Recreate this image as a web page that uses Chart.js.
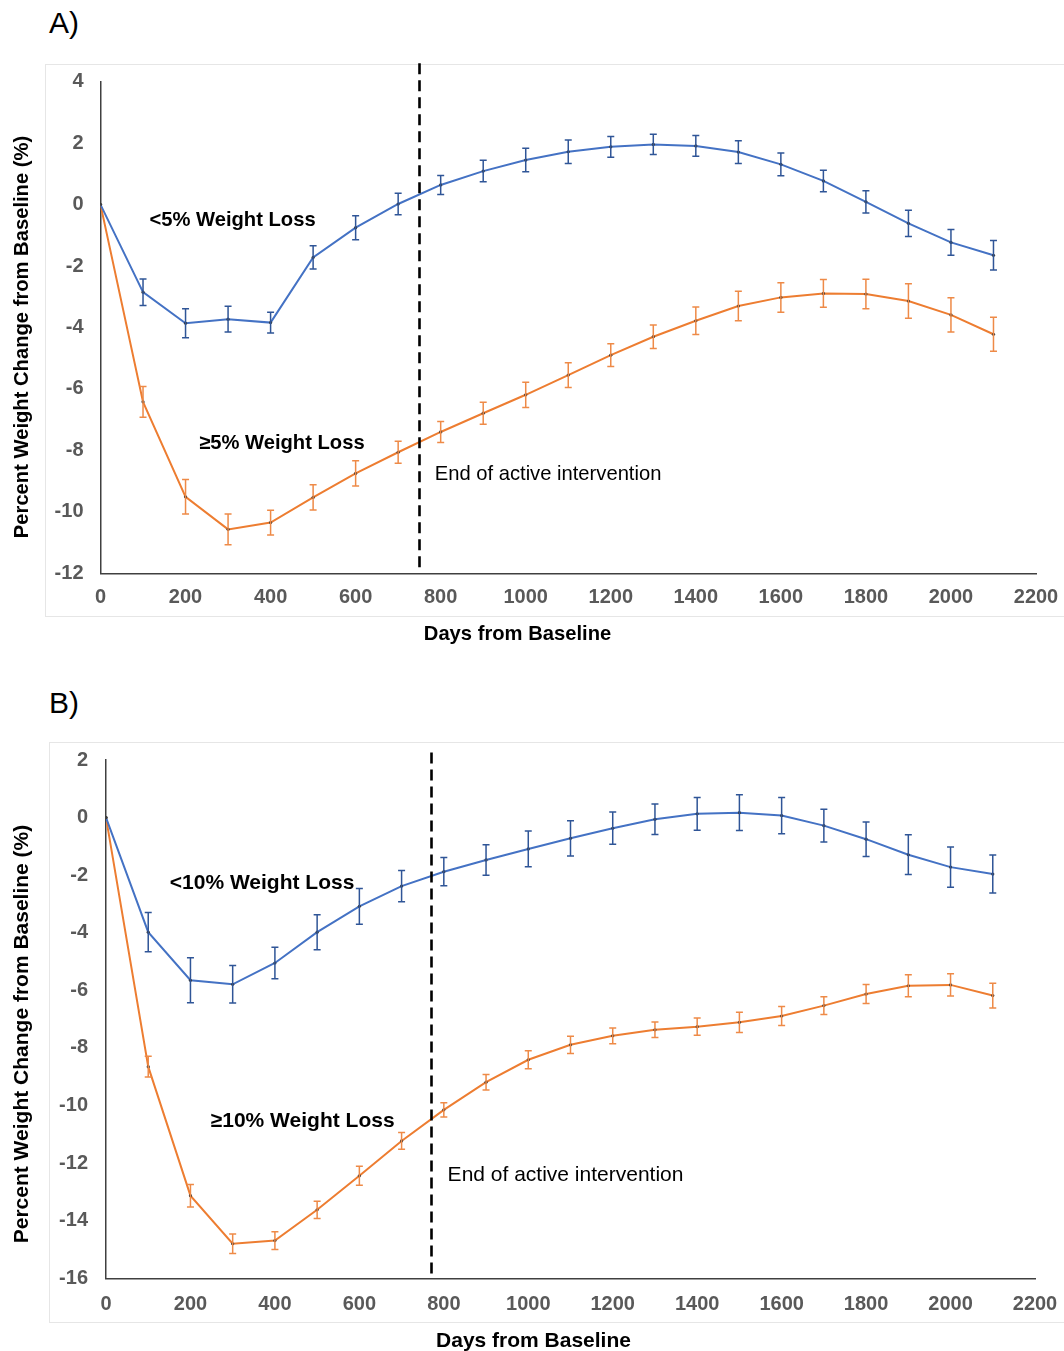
<!DOCTYPE html>
<html><head><meta charset="utf-8">
<script src="https://cdn.jsdelivr.net/npm/chart.js@4.4.1/dist/chart.umd.min.js"></script>
<style>
html,body{margin:0;padding:0;background:#fff;overflow:hidden;}
body{width:1064px;height:1351px;position:relative;font-family:"Liberation Sans",Arial,sans-serif;}
.frame{position:absolute;border:1px solid #e6e6e6;box-sizing:border-box;}
.plabel{position:absolute;font-size:30px;line-height:30px;color:#000;font-family:"Liberation Sans",Arial,sans-serif;}
canvas{position:absolute;left:0;}
</style></head><body>
<div class="frame" style="left:45px;top:64px;width:1040px;height:553px"></div>
<div class="frame" style="left:49px;top:742px;width:1040px;height:581px"></div>
<div class="plabel" style="left:49px;top:8px">A)</div>
<div class="plabel" style="left:49px;top:688px">B)</div>
<canvas id="chartA" width="1064" height="660" style="top:0px"></canvas>
<canvas id="chartB" width="1064" height="680" style="top:680px"></canvas>
<script>
// ---------- data ----------
const days = [0,100,200,300,400,500,600,700,800,900,1000,1100,1200,1300,1400,1500,1600,1700,1800,1900,2000,2100];
const xTickValues = [0,200,400,600,800,1000,1200,1400,1600,1800,2000,2200];
const yTickValuesA = [4,2,0,-2,-4,-6,-8,-10,-12];
const yTickValuesB = [2,0,-2,-4,-6,-8,-10,-12,-14,-16];

// Panel A
const under5 = [0,-2.85,-3.86,-3.73,-3.84,-1.72,-0.75,0.02,0.64,1.09,1.45,1.72,1.88,1.96,1.91,1.71,1.31,0.77,0.09,-0.61,-1.23,-1.65];
const under5Err = [0,0.43,0.47,0.42,0.34,0.38,0.39,0.35,0.31,0.35,0.38,0.38,0.34,0.33,0.34,0.37,0.37,0.35,0.36,0.43,0.42,0.48];
const atLeast5 = [0,-6.42,-9.51,-10.57,-10.35,-9.53,-8.75,-8.06,-7.40,-6.79,-6.19,-5.55,-4.90,-4.30,-3.78,-3.30,-3.02,-2.89,-2.91,-3.14,-3.59,-4.22];
const atLeast5Err = [0,0.50,0.56,0.50,0.40,0.41,0.41,0.36,0.34,0.36,0.41,0.40,0.37,0.38,0.45,0.48,0.48,0.45,0.48,0.56,0.56,0.55];

// Panel B
const under10 = [0,-3.98,-5.65,-5.79,-5.05,-3.98,-3.08,-2.38,-1.88,-1.47,-1.09,-0.72,-0.37,-0.06,0.13,0.17,0.07,-0.28,-0.75,-1.29,-1.72,-1.96];
const under10Err = [0,0.68,0.78,0.65,0.55,0.61,0.62,0.54,0.49,0.53,0.62,0.61,0.56,0.53,0.57,0.62,0.63,0.57,0.60,0.69,0.70,0.66];
const atLeast10 = [0,-8.65,-13.13,-14.80,-14.69,-13.62,-12.44,-11.23,-10.15,-9.19,-8.41,-7.89,-7.58,-7.37,-7.26,-7.11,-6.89,-6.53,-6.13,-5.84,-5.81,-6.18];
const atLeast10Err = [0,0.36,0.39,0.34,0.31,0.30,0.33,0.29,0.25,0.27,0.31,0.30,0.27,0.27,0.30,0.35,0.33,0.31,0.33,0.38,0.39,0.43];

const interventionEndA = 750;
const interventionEndB = 770;

const seriesNamesA = ["<5% Weight Loss", "\u22655% Weight Loss"];
const seriesNamesB = ["<10% Weight Loss", "\u226510% Weight Loss"];
const endLabel = "End of active intervention";
const xTitle = "Days from Baseline";
const yTitle = "Percent Weight Change from Baseline (%)";

// ---------- styling ----------
const FONT = "'Liberation Sans', Arial, sans-serif";
const BLUE = '#4472C4', BLUE_ERR = '#2F5597';
const ORANGE = '#ED7D31', ORANGE_ERR = '#EE8A47';
const TICK = '#595959';

const decor = {
  id: 'decor',
  afterDatasetsDraw(chart) {
    const {ctx, scales: {x, y}} = chart;
    chart.data.datasets.forEach(ds => {
      const errs = ds.errBars;
      if (!errs) return;
      ctx.save();
      ctx.strokeStyle = ds.errColor;
      ctx.lineWidth = 1.5;
      ds.data.forEach((pt, j) => {
        const e = errs[j];
        if (!e) return;
        const px = x.getPixelForValue(pt.x);
        const t = y.getPixelForValue(pt.y + e), b = y.getPixelForValue(pt.y - e);
        ctx.beginPath();
        ctx.moveTo(px, t); ctx.lineTo(px, b);
        ctx.moveTo(px - 3.5, t); ctx.lineTo(px + 3.5, t);
        ctx.moveTo(px - 3.5, b); ctx.lineTo(px + 3.5, b);
        ctx.stroke();
      });
      ctx.restore();
    });
  },
  afterDraw(chart, args, o) {
    const {ctx, scales: {x, y}} = chart;
    ctx.save();
    ctx.strokeStyle = '#000';
    ctx.lineWidth = 2.6;
    ctx.setLineDash([11, 6]);
    const dx = Math.round(x.getPixelForValue(o.endDay)) + 0.5;
    ctx.beginPath();
    ctx.moveTo(dx, y.getPixelForValue(o.dashTop));
    ctx.lineTo(dx, chart.chartArea.bottom);
    ctx.stroke();
    ctx.restore();
    ctx.save();
    ctx.fillStyle = '#000';
    ctx.textBaseline = 'middle';
    ctx.textAlign = 'left';
    o.notes.forEach(n => {
      ctx.font = (n.bold ? 'bold ' : '') + o.textSize + 'px ' + FONT;
      ctx.fillText(n.text, x.getPixelForValue(n.day), y.getPixelForValue(n.value));
    });
    ctx.font = 'bold ' + o.textSize + 'px ' + FONT;
    ctx.textAlign = 'center';
    ctx.fillText(xTitle, o.xTitlePos[0], o.xTitlePos[1]);
    ctx.translate(o.yTitlePos[0], o.yTitlePos[1]);
    ctx.rotate(-Math.PI / 2);
    ctx.fillText(yTitle, 0, 0);
    ctx.restore();
  }
};

function makeChart(id, cfg) {
  const pts = arr => days.map((d, i) => ({x: d, y: arr[i]}));
  return new Chart(document.getElementById(id), {
    type: 'line',
    data: {
      datasets: [
        {data: pts(cfg.s1), errBars: cfg.e1, errColor: BLUE_ERR, borderColor: BLUE, borderWidth: 2,
         pointRadius: 1.6, pointBackgroundColor: '#3a3a3a', pointBorderWidth: 0, tension: 0},
        {data: pts(cfg.s2), errBars: cfg.e2, errColor: ORANGE_ERR, borderColor: ORANGE, borderWidth: 2,
         pointRadius: 1.6, pointBackgroundColor: '#3a3a3a', pointBorderWidth: 0, tension: 0}
      ]
    },
    options: {
      responsive: false,
      animation: false,
      events: [],
      layout: {padding: {left: 0, right: cfg.padRight, top: cfg.padTop, bottom: cfg.padBottom}},
      plugins: {legend: {display: false}, tooltip: {enabled: false}, decor: cfg.decor},
      scales: {
        x: {
          type: 'linear', min: 0, max: 2200,
          afterBuildTicks: s => { s.ticks = xTickValues.map(v => ({value: v})); },
          afterFit: s => { s.height = 50; s.paddingLeft = 0; s.paddingRight = 0; },
          grid: {display: false, drawTicks: false},
          border: {display: true, color: '#404040', width: 1.5},
          ticks: {color: TICK, padding: cfg.xPad, font: {family: FONT, size: 20, weight: 'bold'},
                  maxRotation: 0, autoSkip: false, callback: v => String(v)}
        },
        y: {
          type: 'linear', min: cfg.yMin, max: cfg.yMax,
          afterBuildTicks: s => { s.ticks = cfg.yTicks.map(v => ({value: v})); },
          afterFit: s => { s.width = cfg.yWidth; s.paddingTop = 0; s.paddingBottom = 0; },
          grid: {display: false, drawTicks: false},
          border: {display: true, color: '#404040', width: 1.5},
          ticks: {color: TICK, padding: cfg.yPad, font: {family: FONT, size: 20, weight: 'bold'},
                  callback: v => String(v)}
        }
      }
    },
    plugins: [decor]
  });
}

makeChart('chartA', {
  s1: under5, e1: under5Err, s2: atLeast5, e2: atLeast5Err,
  yMin: -12, yMax: 4, yTicks: yTickValuesA,
  padRight: 28, padTop: 81.7, padBottom: 660 - 573.3 - 50, yWidth: 100.5, xPad: 12.5, yPad: 17,
  decor: {
    endDay: interventionEndA, dashTop: 4.6, textSize: 20.2,
    notes: [
      {text: seriesNamesA[0], day: 115, value: -0.52, bold: true},
      {text: seriesNamesA[1], day: 232, value: -7.78, bold: true},
      {text: endLabel, day: 786, value: -8.78, bold: false}
    ],
    xTitlePos: [517.5, 634], yTitlePos: [22, 337]
  }
});

makeChart('chartB', {
  s1: under10, e1: under10Err, s2: atLeast10, e2: atLeast10Err,
  yMin: -16, yMax: 2, yTicks: yTickValuesB,
  padRight: 29, padTop: 80, padBottom: 680 - 598.3 - 50, yWidth: 106, xPad: 14.5, yPad: 18,
  decor: {
    endDay: interventionEndB, dashTop: 2.26, textSize: 21,
    notes: [
      {text: seriesNamesB[0], day: 151, value: -2.28, bold: true},
      {text: seriesNamesB[1], day: 248, value: -10.56, bold: true},
      {text: endLabel, day: 809, value: -12.41, bold: false}
    ],
    xTitlePos: [533.5, 661.7], yTitlePos: [22, 354]
  }
});
</script>
</body></html>
